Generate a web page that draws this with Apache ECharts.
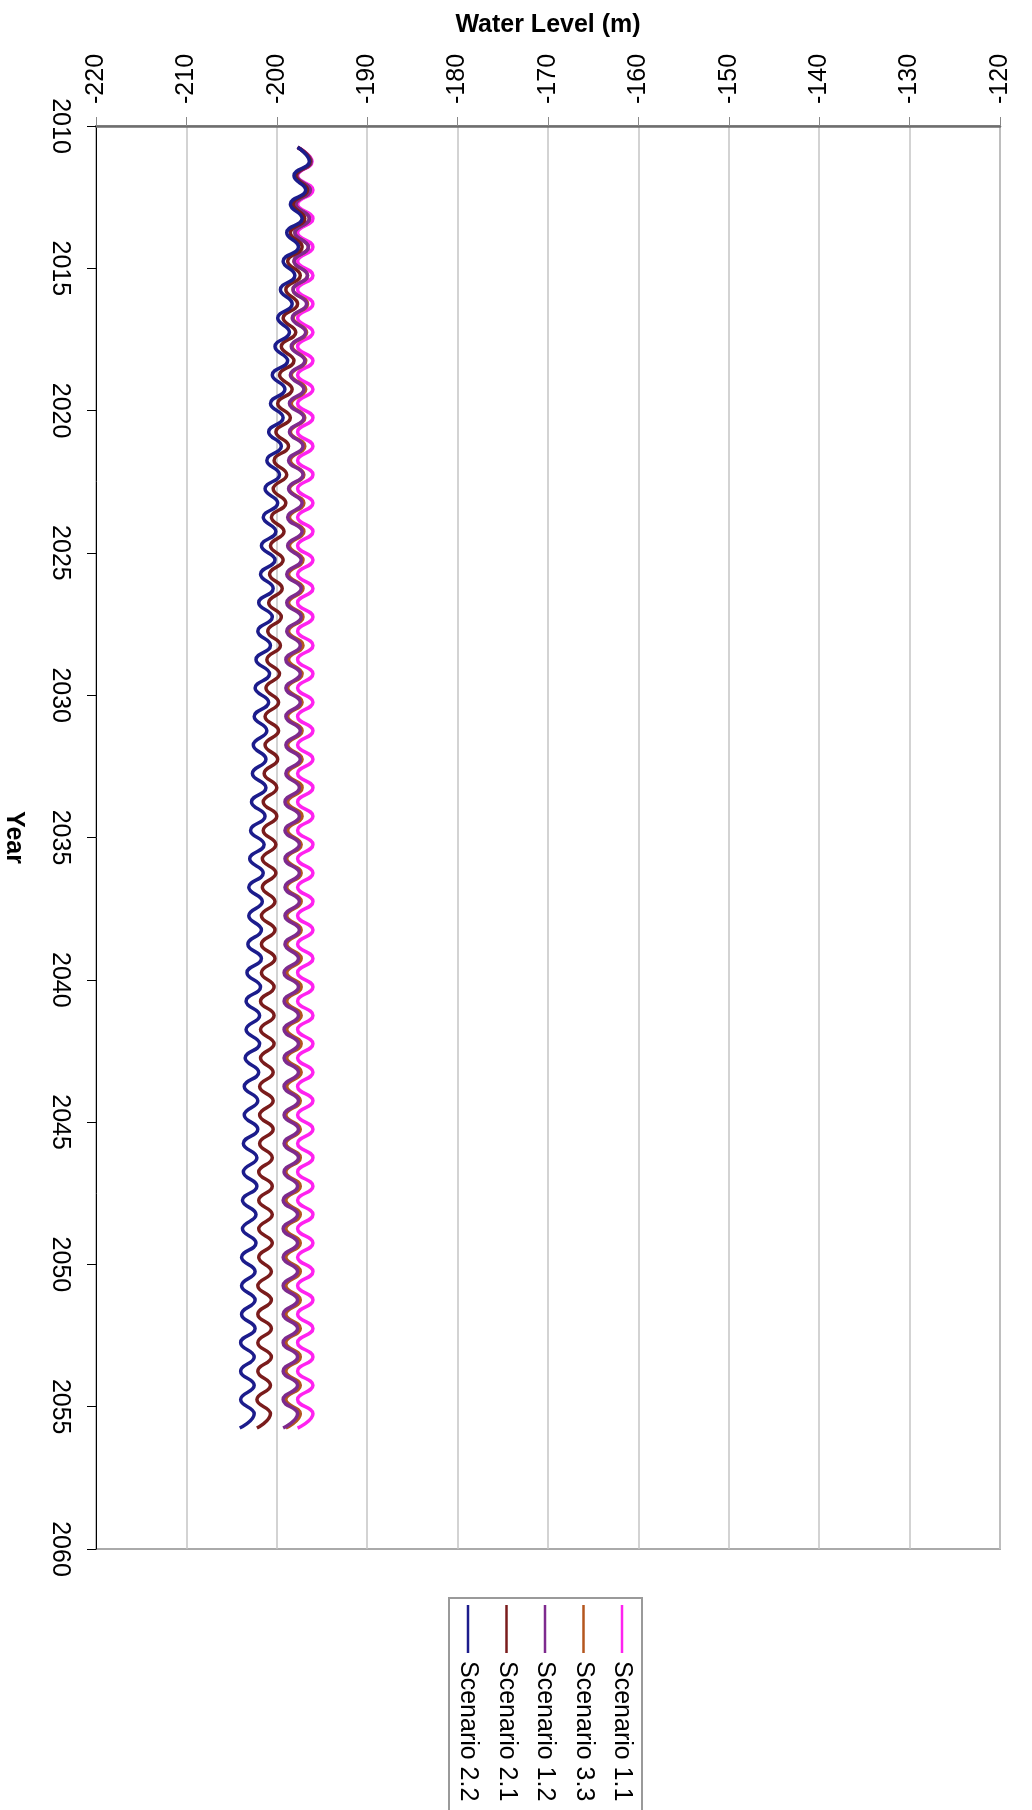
<!DOCTYPE html>
<html>
<head>
<meta charset="utf-8">
<script src="https://cdn.jsdelivr.net/npm/echarts@6/dist/echarts.min.js"></script>
<style>
html,body{margin:0;padding:0;background:#fff;}
#chart{width:1032px;height:1810px;}
</style>
</head>
<body>
<div id="chart"></div>
<script>
// ---------- DATA ----------
// Yearly cycle: a low (trough) around October and a high (peak) around April.
const TROUGH_YEARS = [2010,2011,2012,2013,2014,2015,2016,2017,2018,2019,2020,2021,2022,2023,2024,2025,2026,2027,2028,2029,2030,2031,2032,2033,2034,2035,2036,2037,2038,2039,2040,2041,2042,2043,2044,2045,2046,2047,2048,2049,2050,2051,2052,2053,2054,2055];
const PEAK_YEARS = [2011,2012,2013,2014,2015,2016,2017,2018,2019,2020,2021,2022,2023,2024,2025,2026,2027,2028,2029,2030,2031,2032,2033,2034,2035,2036,2037,2038,2039,2040,2041,2042,2043,2044,2045,2046,2047,2048,2049,2050,2051,2052,2053,2054,2055];
const TROUGH_OFFSET = 0.75;
const PEAK_OFFSET = 0.25;

const SERIES_NAMES = ['Scenario 1.1','Scenario 3.3','Scenario 1.2','Scenario 2.1','Scenario 2.2'];

// Scenario 1.1
const s11_trough = [-197.7,-197.7,-197.7,-197.7,-197.7,-197.7,-197.7,-197.7,-197.7,-197.7,-197.7,-197.7,-197.7,-197.7,-197.7,-197.7,-197.7,-197.7,-197.7,-197.7,-197.7,-197.7,-197.7,-197.7,-197.7,-197.7,-197.7,-197.7,-197.7,-197.7,-197.7,-197.7,-197.7,-197.7,-197.7,-197.7,-197.7,-197.7,-197.7,-197.7,-197.7,-197.7,-197.7,-197.7,-197.7,-197.7];
const s11_peak = [-196.1,-196.0,-196.0,-196.0,-196.0,-196.0,-196.0,-196.0,-196.0,-196.0,-196.0,-196.0,-196.0,-196.0,-196.0,-196.0,-196.0,-196.0,-196.0,-196.0,-196.0,-196.0,-196.0,-196.0,-196.0,-196.0,-196.0,-196.0,-196.0,-196.0,-196.0,-196.0,-196.0,-196.0,-196.0,-196.0,-196.0,-196.0,-196.0,-196.0,-196.0,-196.0,-196.0,-196.0,-196.0];

// Scenario 3.3
const s33_trough = [-197.7,-197.8,-197.9,-198.0,-198.1,-198.2,-198.2,-198.3,-198.4,-198.4,-198.5,-198.5,-198.6,-198.6,-198.6,-198.7,-198.7,-198.7,-198.7,-198.8,-198.8,-198.8,-198.8,-198.8,-198.8,-198.9,-198.9,-198.9,-198.9,-198.9,-198.9,-198.9,-198.9,-198.9,-199.0,-199.0,-199.0,-199.0,-199.0,-199.0,-199.0,-199.0,-199.0,-199.0,-199.0,-199.0];
const s33_peak = [-196.2,-196.3,-196.4,-196.5,-196.6,-196.6,-196.7,-196.8,-196.8,-196.9,-196.9,-197.0,-197.0,-197.0,-197.1,-197.1,-197.1,-197.1,-197.2,-197.2,-197.2,-197.2,-197.2,-197.2,-197.3,-197.3,-197.3,-197.3,-197.3,-197.3,-197.3,-197.3,-197.3,-197.4,-197.4,-197.4,-197.4,-197.4,-197.4,-197.4,-197.4,-197.4,-197.4,-197.4,-197.4];

// Scenario 1.2
const s12_trough = [-197.7,-197.8,-197.9,-198.0,-198.1,-198.2,-198.3,-198.4,-198.5,-198.6,-198.6,-198.7,-198.7,-198.8,-198.8,-198.9,-198.9,-198.9,-199.0,-199.0,-199.0,-199.0,-199.0,-199.1,-199.1,-199.1,-199.1,-199.1,-199.1,-199.2,-199.2,-199.2,-199.2,-199.2,-199.2,-199.2,-199.2,-199.3,-199.3,-199.3,-199.3,-199.3,-199.3,-199.3,-199.3,-199.3];
const s12_peak = [-196.2,-196.3,-196.4,-196.5,-196.6,-196.7,-196.8,-196.9,-197.0,-197.0,-197.1,-197.1,-197.2,-197.2,-197.3,-197.3,-197.3,-197.4,-197.4,-197.4,-197.4,-197.4,-197.5,-197.5,-197.5,-197.5,-197.5,-197.5,-197.6,-197.6,-197.6,-197.6,-197.6,-197.6,-197.6,-197.6,-197.7,-197.7,-197.7,-197.7,-197.7,-197.7,-197.7,-197.7,-197.7];

// Scenario 2.1
const s21_trough = [-197.7,-197.9,-198.2,-198.5,-198.8,-199.0,-199.3,-199.5,-199.7,-199.9,-200.1,-200.3,-200.4,-200.6,-200.7,-200.8,-200.9,-201.0,-201.1,-201.2,-201.3,-201.3,-201.4,-201.5,-201.5,-201.6,-201.6,-201.7,-201.7,-201.7,-201.8,-201.8,-201.8,-201.9,-201.9,-201.9,-202.0,-202.0,-202.0,-202.0,-202.1,-202.1,-202.1,-202.1,-202.2,-202.2];
const s21_peak = [-196.3,-196.6,-196.9,-197.2,-197.4,-197.7,-197.9,-198.1,-198.3,-198.5,-198.7,-198.9,-199.0,-199.2,-199.3,-199.4,-199.5,-199.6,-199.7,-199.8,-199.8,-199.9,-200.0,-200.0,-200.1,-200.1,-200.2,-200.2,-200.2,-200.3,-200.3,-200.3,-200.4,-200.4,-200.4,-200.5,-200.5,-200.5,-200.5,-200.6,-200.6,-200.6,-200.6,-200.7,-200.7];

// Scenario 2.2
const s22_trough = [-197.7,-198.1,-198.5,-198.9,-199.3,-199.6,-199.9,-200.2,-200.5,-200.7,-200.9,-201.1,-201.3,-201.5,-201.7,-201.8,-202.0,-202.1,-202.3,-202.4,-202.5,-202.6,-202.7,-202.8,-202.9,-203.0,-203.1,-203.1,-203.2,-203.3,-203.4,-203.4,-203.5,-203.6,-203.6,-203.7,-203.7,-203.8,-203.8,-203.9,-203.9,-203.9,-204.0,-204.0,-204.0,-204.1];
const s22_peak = [-196.4,-196.8,-197.2,-197.6,-198.0,-198.3,-198.6,-198.8,-199.1,-199.3,-199.5,-199.7,-199.9,-200.1,-200.2,-200.4,-200.5,-200.7,-200.8,-200.9,-201.1,-201.2,-201.2,-201.3,-201.4,-201.5,-201.6,-201.7,-201.7,-201.8,-201.9,-201.9,-202.0,-202.1,-202.1,-202.2,-202.2,-202.3,-202.3,-202.4,-202.4,-202.4,-202.5,-202.5,-202.5];

const X_TICKS = {min:-220, max:-120, step:10};
const Y_TICKS = {min:2010, max:2060, step:5};

// ---------- BUILD ----------
const COLORS = {
  'Scenario 1.1':'#ff22f0',
  'Scenario 3.3':'#b4561e',
  'Scenario 1.2':'#7e2a8e',
  'Scenario 2.1':'#7a1c1c',
  'Scenario 2.2':'#1c1c8c'
};
const RAW = {
  'Scenario 1.1':[s11_trough,s11_peak],
  'Scenario 3.3':[s33_trough,s33_peak],
  'Scenario 1.2':[s12_trough,s12_peak],
  'Scenario 2.1':[s21_trough,s21_peak],
  'Scenario 2.2':[s22_trough,s22_peak]
};
function build(trough, peak){
  const out = [];
  for (let i = 0; i < TROUGH_YEARS.length; i++){
    out.push([trough[i], TROUGH_YEARS[i] + TROUGH_OFFSET]);
    if (i < PEAK_YEARS.length) out.push([peak[i], PEAK_YEARS[i] + PEAK_OFFSET]);
  }
  return out;
}
const FONT = 'Liberation Sans, Arial, sans-serif';
const series = SERIES_NAMES.map(n => ({
  name:n, type:'line', data:build(RAW[n][0], RAW[n][1]),
  showSymbol:false, smooth:true, animation:false,
  lineStyle:{color:COLORS[n], width:3.5}, itemStyle:{color:COLORS[n]}
}));

// legend (rotated, as in the picture), left to right: last legend entry first
const legendOrder = SERIES_NAMES.slice().reverse();
const legendEls = [{
  type:'rect', shape:{x:449, y:1598, width:193, height:240},
  style:{fill:'#fff', stroke:'#9a9a9a', lineWidth:2}, z:100
}];
legendOrder.forEach((n,i) => {
  const x = 468 + i*38.5;
  legendEls.push({type:'line', shape:{x1:x, y1:1605, x2:x, y2:1653}, style:{stroke:COLORS[n], lineWidth:2.5}, z:101});
  legendEls.push({type:'text', x:x, y:1661, rotation:-Math.PI/2,
    style:{text:n, fill:'#000', font:'25px ' + FONT, align:'left', verticalAlign:'middle', textAlign:'left', textVerticalAlign:'middle'}, z:101});
});

const chart = echarts.init(document.getElementById('chart'), null, {renderer:'canvas'});
chart.setOption({
  animation:false,
  backgroundColor:'#fff',
  grid:{left:96, right:32, top:126, bottom:261, show:true, borderColor:'#aaaaaa', borderWidth:2, containLabel:false, outerBoundsMode:'none'},
  xAxis:{
    type:'value', position:'top', min:X_TICKS.min, max:X_TICKS.max, interval:X_TICKS.step,
    name:'Water Level (m)', nameLocation:'middle', nameGap:88,
    nameTextStyle:{fontSize:25, fontWeight:'bold', color:'#000', fontFamily:FONT},
    axisLine:{show:true, onZero:false, lineStyle:{color:'#6e6e6e', width:2.5}},
    axisTick:{show:true, inside:false, length:9, lineStyle:{color:'#888', width:1}},
    axisLabel:{rotate:-90, margin:22, fontSize:25, color:'#000', fontFamily:FONT, showMinLabel:true, showMaxLabel:true},
    splitLine:{show:true, lineStyle:{color:'#c4c4c4', width:1.5}}
  },
  yAxis:{
    type:'value', inverse:true, min:Y_TICKS.min, max:Y_TICKS.max, interval:Y_TICKS.step,
    name:'Year', nameLocation:'middle', nameRotate:-90, nameGap:70,
    nameTextStyle:{fontSize:25, fontWeight:'bold', color:'#000', fontFamily:FONT},
    axisLine:{show:true, onZero:false, lineStyle:{color:'#000', width:1}},
    axisTick:{show:true, inside:false, length:9, lineStyle:{color:'#000', width:1}},
    axisLabel:{rotate:-90, margin:24, fontSize:25, color:'#000', fontFamily:FONT, showMinLabel:true, showMaxLabel:true,
      formatter: v => String(v)},
    splitLine:{show:false}
  },
  graphic:legendEls,
  series:series
});
</script>
</body>
</html>
